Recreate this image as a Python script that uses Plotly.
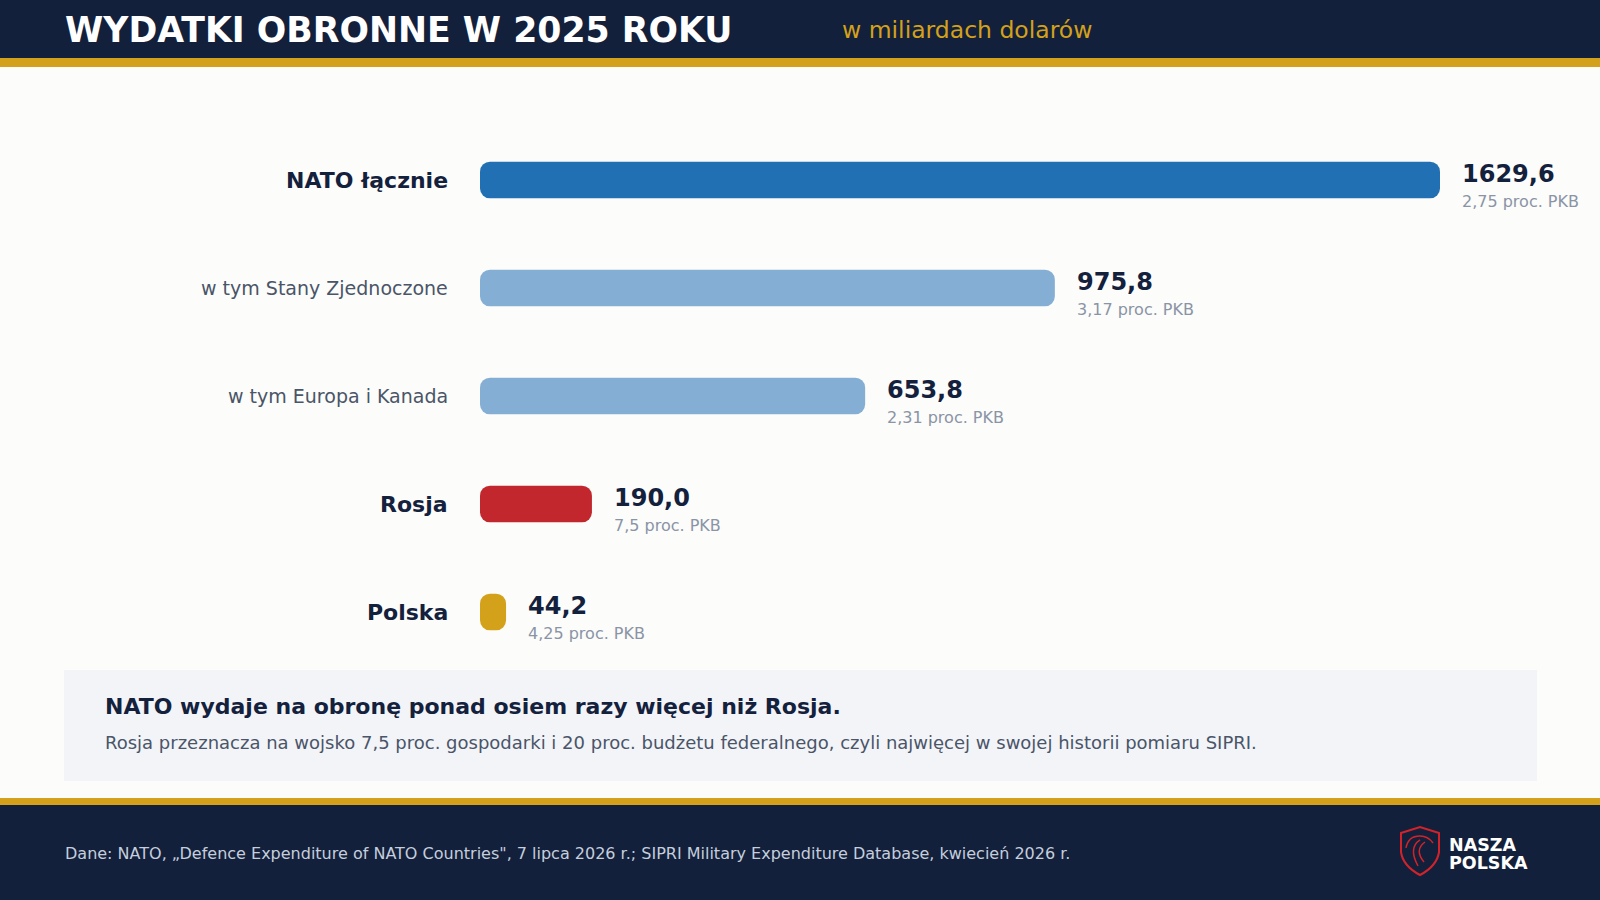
import plotly.graph_objects as go

# ---- data ----
categories = ["NATO łącznie", "w tym Stany Zjednoczone", "w tym Europa i Kanada", "Rosja", "Polska"]
values = [1629.6, 975.8, 653.8, 190.0, 44.2]
gdp_share = ["2,75", "3,17", "2,31", "7,5", "4,25"]
emphasis = [True, False, False, True, True]
bar_colors = ["#2170B3", "#84AED3", "#84AED3", "#C1272D", "#D4A11A"]

title = "WYDATKI OBRONNE W 2025 ROKU"
subtitle = "w miliardach dolarów"
callout_head = "NATO wydaje na obronę ponad osiem razy więcej niż Rosja."
callout_body = ("Rosja przeznacza na wojsko 7,5 proc. gospodarki i 20 proc. budżetu federalnego, "
                "czyli najwięcej w swojej historii pomiaru SIPRI.")
source = ("Dane: NATO, „Defence Expenditure of NATO Countries\", 7 lipca 2026 r.; "
          "SIPRI Military Expenditure Database, kwiecień 2026 r.")
logo_lines = ["NASZA", "POLSKA"]

# ---- layout helpers ----
W, H = 1600, 900
NAVY = "#13203B"
GOLD = "#D4A11A"
FONT = "DejaVu Sans"


def px(x):
    return x / W


def py(y):
    return 1 - y / H


fig = go.Figure()
fig.add_trace(go.Bar(
    x=values, base=[0] * len(values), y=categories, orientation="h",
    marker=dict(color=bar_colors, cornerradius=10, line=dict(width=0)),
    width=0.34, hoverinfo="skip", showlegend=False,
))

shapes = [
    # header
    dict(type="rect", xref="paper", yref="paper", x0=0, x1=1, y0=py(58), y1=1,
         fillcolor=NAVY, line_width=0, layer="below"),
    dict(type="rect", xref="paper", yref="paper", x0=0, x1=1, y0=py(67), y1=py(58),
         fillcolor=GOLD, line_width=0, layer="below"),
    # callout box
    dict(type="rect", xref="paper", yref="paper", x0=px(64), x1=px(1537), y0=py(781), y1=py(670),
         fillcolor="#F2F4F8", line_width=0, layer="below"),
    # footer
    dict(type="rect", xref="paper", yref="paper", x0=0, x1=1, y0=py(805), y1=py(798),
         fillcolor=GOLD, line_width=0, layer="below"),
    dict(type="rect", xref="paper", yref="paper", x0=0, x1=1, y0=0, y1=py(805),
         fillcolor=NAVY, line_width=0, layer="below"),
]


def ppath(points_cmds):
    out = []
    for tok in points_cmds:
        if isinstance(tok, str):
            out.append(tok)
        else:
            out.append(f"{px(tok[0]):.5f},{py(tok[1]):.5f}")
    return " ".join(out)


# logo shield
shield = ppath(["M", (1401, 833), "L", (1420, 827), "L", (1439, 833), "L", (1439, 852),
                "Q", (1437, 866), (1420, 875), "Q", (1403, 866), (1401, 852), "Z"])
shapes.append(dict(type="path", xref="paper", yref="paper", path=shield,
                   line=dict(color="#D2232A", width=2), fillcolor="rgba(0,0,0,0)"))
eagle1 = ppath(["M", (1406, 848), "Q", (1408, 836), (1420, 836), "Q", (1428, 836), (1433, 843)])
eagle2 = ppath(["M", (1420, 840), "Q", (1408, 848), (1418, 866)])
eagle3 = ppath(["M", (1425, 842), "Q", (1414, 850), (1424, 862)])
for p in (eagle1, eagle2, eagle3):
    shapes.append(dict(type="path", xref="paper", yref="paper", path=p,
                       line=dict(color="#D2232A", width=1.5)))

annotations = [
    dict(text=f"<b>{title}</b>", x=px(63), y=py(30), xref="paper", yref="paper",
         xanchor="left", yanchor="middle", showarrow=False,
         font=dict(family=FONT, size=34.7, color="white")),
    dict(text=subtitle, x=px(840), y=py(30), xref="paper", yref="paper",
         xanchor="left", yanchor="middle", showarrow=False,
         font=dict(family=FONT, size=23.5, color=GOLD)),
    dict(text=f"<b>{callout_head}</b>", x=px(103), y=py(706), xref="paper", yref="paper",
         xanchor="left", yanchor="middle", showarrow=False,
         font=dict(family=FONT, size=22, color="#14213D")),
    dict(text=callout_body, x=px(103), y=py(742), xref="paper", yref="paper",
         xanchor="left", yanchor="middle", showarrow=False,
         font=dict(family=FONT, size=18, color="#4A5568")),
    dict(text=source, x=px(63), y=py(853), xref="paper", yref="paper",
         xanchor="left", yanchor="middle", showarrow=False,
         font=dict(family=FONT, size=16, color="#C5CEDD")),
]
for i, line in enumerate(logo_lines):
    annotations.append(dict(
        text=f"<b>{line}</b>", x=px(1447), y=py(844 + 18 * i), xref="paper", yref="paper",
        xanchor="left", yanchor="middle", height=17, showarrow=False,
        font=dict(family=FONT, size=17.5, color="white")))

for cat, val, share, emph in zip(categories, values, gdp_share, emphasis):
    label = f"<b>{cat}</b>" if emph else cat
    annotations.append(dict(
        text=label, x=px(450), y=cat, xref="paper", yref="y",
        xanchor="right", yanchor="middle", showarrow=False,
        font=dict(family=FONT, size=22 if emph else 19, color="#14213D" if emph else "#4A5568")))
    annotations.append(dict(
        text=f"<b>{val:.1f}</b>".replace(".", ","), x=val, y=cat, xref="x", yref="y",
        xanchor="left", yanchor="middle", xshift=20, yshift=6, showarrow=False,
        font=dict(family=FONT, size=24, color="#14213D")))
    annotations.append(dict(
        text=f"{share} proc. PKB", x=val, y=cat, xref="x", yref="y",
        xanchor="left", yanchor="middle", xshift=20, yshift=-21, showarrow=False,
        font=dict(family=FONT, size=16, color="#8A94A6")))

fig.update_layout(
    width=W, height=H,
    margin=dict(l=0, r=0, t=0, b=0),
    paper_bgcolor="#FCFCFA", plot_bgcolor="rgba(0,0,0,0)",
    font=dict(family=FONT),
    xaxis=dict(domain=[px(480), px(1440)], range=[0, max(values)], visible=False, fixedrange=True),
    yaxis=dict(domain=[py(666), py(126)], categoryorder="array", categoryarray=categories,
               range=[len(categories) - 0.5, -0.5], visible=False, fixedrange=True),
    shapes=shapes,
    annotations=annotations,
)

fig.write_html("out.html", config={"displayModeBar": False},
               post_script="document.body.style.margin='0';document.body.style.overflow='hidden';")
